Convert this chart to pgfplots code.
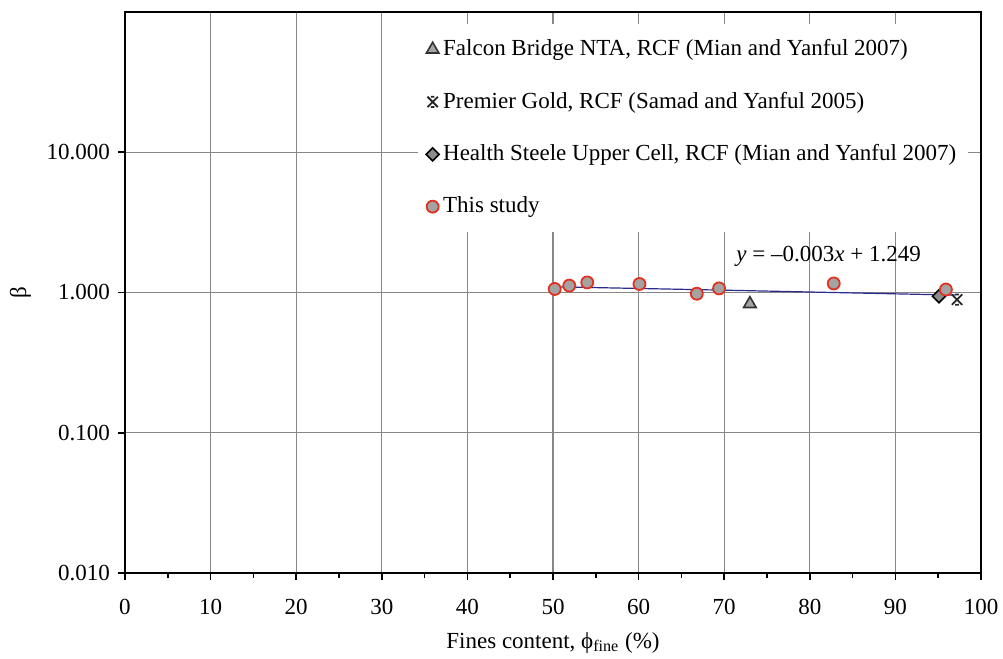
\documentclass[border=0pt]{standalone}
\usepackage{pgfplots}
\pgfplotsset{compat=1.18}
\usepackage{fontspec}
\setmainfont{Liberation Serif}
\definecolor{gridgray}{HTML}{878787}
\definecolor{markgray}{HTML}{A3A3A3}
\definecolor{edgered}{HTML}{E2321F}
\definecolor{fitblue}{HTML}{2B2B8C}
% cross with short horizontal caps
\pgfdeclareplotmark{capx}{%
  \pgfpathmoveto{\pgfqpoint{-\pgfplotmarksize}{-\pgfplotmarksize}}%
  \pgfpathlineto{\pgfqpoint{\pgfplotmarksize}{\pgfplotmarksize}}%
  \pgfpathmoveto{\pgfqpoint{-\pgfplotmarksize}{\pgfplotmarksize}}%
  \pgfpathlineto{\pgfqpoint{\pgfplotmarksize}{-\pgfplotmarksize}}%
  \pgfpathmoveto{\pgfqpoint{-0.35\pgfplotmarksize}{\pgfplotmarksize}}%
  \pgfpathlineto{\pgfqpoint{0.35\pgfplotmarksize}{\pgfplotmarksize}}%
  \pgfpathmoveto{\pgfqpoint{-0.35\pgfplotmarksize}{-\pgfplotmarksize}}%
  \pgfpathlineto{\pgfqpoint{0.35\pgfplotmarksize}{-\pgfplotmarksize}}%
  \pgfusepathqstroke}
\pgfplotsset{
  marklegend/.style={legend image code/.code={\draw[##1] plot coordinates {(0.12cm,0cm)};}}
}
\newcommand{\chartfont}{\fontsize{11.5pt}{13.5pt}\selectfont}
\begin{document}
\chartfont
\begin{tikzpicture}
\begin{axis}[
  scale only axis,
  width=428pt, height=280.5pt,
  xmin=0, xmax=100,
  ymode=log, ymin=0.01, ymax=100,
  xtick={0,10,...,100},
  minor xtick={5,15,...,95},
  ytick={0.01,0.1,1,10},
  yticklabels={0.010,0.100,1.000,10.000},
  yminorticks=false,
  xtick pos=bottom, ytick pos=left,
  tick align=outside,
  major tick length=3.5pt, minor tick length=2.5pt,
  tick style={black, line width=0.8pt},
  axis line style={black, line width=1pt},
  grid=major,
  major grid style={gridgray, line width=0.6pt},
  /pgf/number format/assume math mode=true,
  ticklabel style={font=\chartfont},
  xticklabel style={yshift=-5.5pt},
  xlabel={Fines content, ϕ\textsubscript{fine} (\%)},
  xlabel style={yshift=-1pt},
  ylabel={β},
  label style={font=\chartfont},
  legend style={draw=none, fill=white, at={(rel axis cs:0.342,0.98)},
    anchor=north west, row sep=12.4pt, inner xsep=4pt, inner ysep=6pt,
    font=\chartfont},
  legend cell align=left,
]
\coordinate (bl) at (rel axis cs:0,0);
\coordinate (tr) at (rel axis cs:1,1);

% Falcon Bridge NTA
\addplot[only marks, marklegend, mark=triangle*, mark size=3.6pt,
  mark options={fill=markgray, draw=black!80, line width=0.8pt}]
  coordinates {(73.0,0.83)};
\addlegendentry{Falcon Bridge NTA, RCF (Mian and Yanful 2007)}

% Premier Gold
\addplot[only marks, marklegend, mark=capx, mark size=2.6pt,
  mark options={draw=black!85, line width=0.9pt}]
  coordinates {(97.2,0.89)};
\addlegendentry{Premier Gold, RCF (Samad and Yanful 2005)}

% Health Steele Upper Cell
\addplot[only marks, marklegend, mark=square*, mark size=2.3pt,
  mark options={rotate=45, fill=markgray!85!black, draw=black, line width=0.8pt}]
  coordinates {(95.1,0.94)};
\addlegendentry{Health Steele Upper Cell, RCF (Mian and Yanful 2007)}

% This study
\addplot[only marks, marklegend, mark=*, mark size=3pt,
  mark options={fill=markgray, draw=edgered, line width=0.9pt}]
  coordinates {
    (50.2,1.06) (51.9,1.12) (54.0,1.18) (60.1,1.15)
    (66.8,0.98) (69.4,1.07) (82.8,1.16) (95.9,1.05)
  };
\addlegendentry{This study}

% linear fit y = -0.003x + 1.249
\addplot[fitblue, line width=0.6pt, forget plot]
  coordinates {(50,1.099) (70,1.039) (97,0.958)};

\node[font=\chartfont] at (axis cs:82.2,1.82)
  {\textit{y} = –0.003\textit{x} + 1.249};
\end{axis}
\pgfresetboundingbox
\path[use as bounding box] ([shift={(-62.5pt,-43pt)}]bl) rectangle ([shift={(11pt,6pt)}]tr);
\end{tikzpicture}
\end{document}
